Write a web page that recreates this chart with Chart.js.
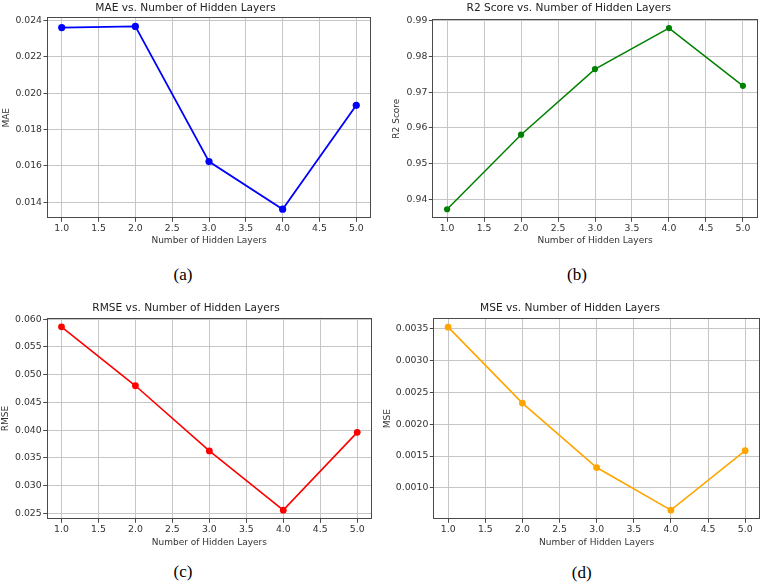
<!DOCTYPE html>
<html>
<head>
<meta charset="utf-8">
<script src="https://cdn.jsdelivr.net/npm/chart.js@4.4.1/dist/chart.umd.min.js"></script>
<style>
  html, body { margin: 0; padding: 0; background: #fff; }
  #page { position: relative; width: 763px; height: 587px; overflow: hidden; background: #fff; }
  .panel { position: absolute; }
  .cap {
    position: absolute; transform: translate(-50%, -50%);
    font-family: 'Liberation Serif', 'Times New Roman', serif;
    font-size: 17px; color: #000; white-space: nowrap;
  }
</style>
</head>
<body>
<div id="page"></div>
<script>
// ═══ DATA ═══
const layers = [1, 2, 3, 4, 5];
const maeValues  = [0.02360, 0.02366, 0.01624, 0.01363, 0.01933];
const r2Values   = [0.9372, 0.9581, 0.9765, 0.9880, 0.9718];
const rmseValues = [0.05862, 0.04800, 0.03625, 0.02558, 0.03960];
const mseValues  = [0.003520, 0.002330, 0.001320, 0.000652, 0.001584];

const xTicks    = [1.0, 1.5, 2.0, 2.5, 3.0, 3.5, 4.0, 4.5, 5.0];
const maeTicks  = [0.014, 0.016, 0.018, 0.020, 0.022, 0.024];
const r2Ticks   = [0.94, 0.95, 0.96, 0.97, 0.98, 0.99];
const rmseTicks = [0.025, 0.030, 0.035, 0.040, 0.045, 0.050, 0.055, 0.060];
const mseTicks  = [0.0010, 0.0015, 0.0020, 0.0025, 0.0030, 0.0035];

const xLabel = "Number of Hidden Layers";

// ═══ STYLE ═══
const FONT = "'DejaVu Sans', 'Liberation Sans', sans-serif";
const TITLE_SIZE = 10.6;
const TICK_SIZE = 9.3;
const LABEL_SIZE = 9;
const GRID = "#c6c6c6";
const INK = "#333";
const FRAME = "#4a4a4a";

Chart.defaults.font.family = FONT;

// matplotlib-like full frame round the axes
const framePlugin = {
  id: "frame",
  afterDraw(chart) {
    const { ctx, chartArea: a } = chart;
    ctx.save();
    ctx.strokeStyle = FRAME;
    ctx.lineWidth = 1;
    const l = Math.round(a.left) + 0.5, t = Math.round(a.top) + 0.5;
    const r = Math.round(a.right) - 0.5, b = Math.round(a.bottom) - 0.5;
    ctx.strokeRect(l, t, r - l, b - t);
    ctx.restore();
  }
};

const panels = [
  { title: "MAE vs. Number of Hidden Layers", yLabel: "MAE", values: maeValues, yTicks: maeTicks, dec: 3,
    color: "#0000ff", lw: 1.8, pr: 3.6, caption: "(a)",
    box: { x: 0, y: 0, w: 380, h: 255 }, area: { l: 47, t: 17.3, r: 371, b: 218.3 },
    titleY: 8, yTitleX: 6.7, xTitleY: 240.7, capX: 183, capY: 275 },
  { title: "R2 Score vs. Number of Hidden Layers", yLabel: "R2 Score", values: r2Values, yTicks: r2Ticks, dec: 2,
    color: "#008000", lw: 1.5, pr: 3.1, caption: "(b)",
    box: { x: 380, y: 0, w: 383, h: 255 }, area: { l: 432.3, t: 19, r: 757.7, b: 218.3 },
    titleY: 8, yTitleX: 396.7, xTitleY: 240.7, capX: 577, capY: 275 },
  { title: "RMSE vs. Number of Hidden Layers", yLabel: "RMSE", values: rmseValues, yTicks: rmseTicks, dec: 3,
    color: "#ff0000", lw: 1.6, pr: 3.4, caption: "(c)",
    box: { x: 0, y: 298, w: 380, h: 260 }, area: { l: 46.7, t: 317.7, r: 372, b: 519.3 },
    titleY: 308.3, yTitleX: 6, xTitleY: 542.3, capX: 183, capY: 572 },
  { title: "MSE vs. Number of Hidden Layers", yLabel: "MSE", values: mseValues, yTicks: mseTicks, dec: 4,
    color: "#ffa500", lw: 1.6, pr: 3.4, caption: "(d)",
    box: { x: 380, y: 298, w: 383, h: 260 }, area: { l: 433.3, t: 318, r: 760, b: 519.3 },
    titleY: 308.3, yTitleX: 388, xTitleY: 542.3, capX: 581.7, capY: 573 }
];

const page = document.getElementById("page");

function makeChart(p) {
  const wrap = document.createElement("div");
  wrap.className = "panel";
  wrap.style.cssText = `left:${p.box.x}px;top:${p.box.y}px;width:${p.box.w}px;height:${p.box.h}px;`;
  const canvas = document.createElement("canvas");
  canvas.width = p.box.w;
  canvas.height = p.box.h;
  wrap.appendChild(canvas);
  page.appendChild(wrap);

  // axis limits with 5% margins, like matplotlib
  const lo = Math.min(...p.values), hi = Math.max(...p.values);
  const m = (hi - lo) * 0.05;
  const titleLH = TITLE_SIZE * 1.2, labLH = LABEL_SIZE * 1.2;

  const tickFont = { size: TICK_SIZE, family: FONT };
  const labFont = { size: LABEL_SIZE, family: FONT, lineHeight: 1.2 };

  new Chart(canvas, {
    type: "line",
    data: {
      datasets: [{
        data: layers.map((x, i) => ({ x, y: p.values[i] })),
        borderColor: p.color,
        backgroundColor: p.color,
        borderWidth: p.lw,
        pointRadius: p.pr,
        pointHoverRadius: p.pr,
        pointBorderWidth: 0,
        tension: 0,
        fill: false
      }]
    },
    options: {
      responsive: false,
      animation: false,
      events: [],
      layout: {
        autoPadding: false,
        padding: { left: 0, top: 0, bottom: 0, right: p.box.x + p.box.w - p.area.r }
      },
      plugins: {
        legend: { display: false },
        tooltip: { enabled: false },
        title: {
          display: true, text: p.title, color: "#222",
          font: { size: TITLE_SIZE, weight: "normal", family: FONT, lineHeight: 1.2 },
          padding: { top: p.titleY - p.box.y - titleLH / 2, bottom: p.area.t - p.titleY - titleLH / 2 }
        }
      },
      scales: {
        x: {
          type: "linear", min: 0.8, max: 5.2,
          afterBuildTicks: s => { s.ticks = xTicks.map(v => ({ value: v })); },
          afterFit: s => { s.height = p.box.y + p.box.h - p.area.b; },
          ticks: { callback: v => Number(v).toFixed(1), font: tickFont, color: INK, padding: 1.5, maxRotation: 0, autoSkip: false },
          grid: { color: GRID, lineWidth: 1, tickLength: 3.5, tickColor: FRAME, tickWidth: 1 },
          border: { display: false },
          title: {
            display: true, text: xLabel, color: INK, font: labFont,
            padding: { top: 0, bottom: p.box.y + p.box.h - p.xTitleY - labLH / 2 }
          }
        },
        y: {
          type: "linear", min: lo - m, max: hi + m,
          afterBuildTicks: s => { s.ticks = p.yTicks.map(v => ({ value: v })); },
          afterFit: s => { s.width = p.area.l - p.box.x; },
          ticks: { callback: v => Number(v).toFixed(p.dec), font: tickFont, color: INK, padding: 1.5, autoSkip: false },
          grid: { color: GRID, lineWidth: 1, tickLength: 3.5, tickColor: FRAME, tickWidth: 1 },
          border: { display: false },
          title: {
            display: true, text: p.yLabel, color: INK, font: labFont,
            padding: { top: p.yTitleX - p.box.x - labLH / 2, bottom: 0 }
          }
        }
      }
    },
    plugins: [framePlugin]
  });

  const cap = document.createElement("div");
  cap.className = "cap";
  cap.textContent = p.caption;
  cap.style.left = p.capX + "px";
  cap.style.top = p.capY + "px";
  page.appendChild(cap);
}

panels.forEach(makeChart);
</script>
</body>
</html>
